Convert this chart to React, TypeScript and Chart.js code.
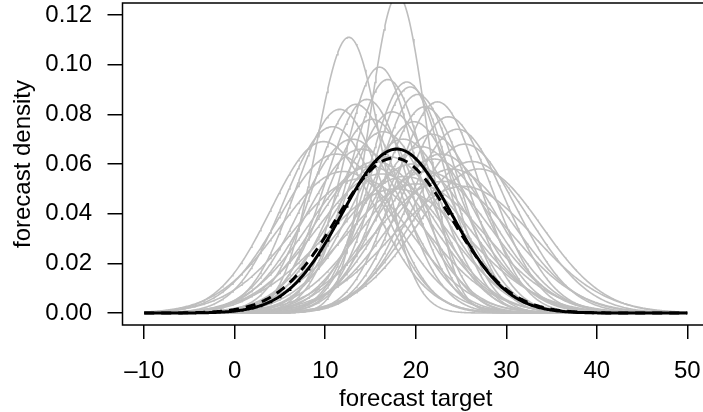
import React, { useEffect, useRef } from "react";
import { Chart, registerables } from "chart.js";

Chart.register(...registerables);

// ---- data ----
const xTicks = [-10, 0, 10, 20, 30, 40, 50];
const xTickLabels = ["\u201310", "0", "10", "20", "30", "40", "50"];
const yTicks = [0, 0.02, 0.04, 0.06, 0.08, 0.1, 0.12];
const yTickLabels = ["0.00", "0.02", "0.04", "0.06", "0.08", "0.10", "0.12"];
const xTitle = "forecast target";
const yTitle = "forecast density";
const xFrom = -10;
const xTo = 50;

// member forecast densities (grey): location of peak and peak height
const memberCentres = [
  18.0, 12.6, 16.0, 16.9, 19.0, 19.4, 20.2, 22.4, 21.0, 14.6, 13.4, 11.6, 17.4, 23.6, 15.2,
  19.8, 24.6, 10.8, 16.4, 21.8, 13.0, 18.6, 25.4, 20.6, 14.0, 11.2, 22.8, 17.0, 26.2, 15.6,
  19.6, 12.0, 24.0, 21.2, 16.2, 18.8, 13.8, 23.0, 20.0, 25.2, 17.8, 15.0, 22.0, 9.8, 27.0,
];
const memberPeaks = [
  0.128, 0.111, 0.099, 0.094, 0.093, 0.091, 0.088, 0.085, 0.083, 0.086, 0.084, 0.082, 0.081, 0.079, 0.078,
  0.077, 0.074, 0.075, 0.073, 0.072, 0.07, 0.07, 0.068, 0.067, 0.066, 0.064, 0.064, 0.063, 0.061, 0.061,
  0.06, 0.057, 0.058, 0.057, 0.056, 0.055, 0.054, 0.053, 0.052, 0.051, 0.05, 0.059, 0.062, 0.069, 0.058,
];
// combined forecasts (black solid and black dashed)
const combinedCentre = 17.9;
const combinedPeak = 0.066;
const averageCentre = 17.6;
const averagePeak = 0.0624;

const FONT = '"Liberation Sans", Arial, Helvetica, sans-serif';

function densityCurve(centre: number, peak: number) {
  const sd = 1 / (peak * Math.sqrt(2 * Math.PI));
  const pts: { x: number; y: number }[] = [];
  const n = 600;
  for (let i = 0; i <= n; i++) {
    const x = xFrom + ((xTo - xFrom) * i) / n;
    const z = (x - centre) / sd;
    pts.push({ x, y: peak * Math.exp(-0.5 * z * z) });
  }
  return pts;
}

const framePlugin = {
  id: "frame",
  afterDraw(chart: any) {
    const { ctx, chartArea: a } = chart;
    ctx.save();
    ctx.strokeStyle = "#000";
    ctx.lineWidth = 1.5;
    ctx.strokeRect(a.left, a.top, a.right - a.left, a.bottom - a.top);
    ctx.fillStyle = "#000";
    ctx.font = `24px ${FONT}`;
    ctx.textAlign = "center";
    ctx.textBaseline = "alphabetic";
    ctx.fillText(xTitle, (a.left + a.right) / 2, 406);
    ctx.translate(30, (a.top + a.bottom) / 2);
    ctx.rotate(-Math.PI / 2);
    ctx.fillText(yTitle, 0, 0);
    ctx.restore();
  },
};

const noPad = (s: any) => {
  s.paddingTop = 0;
  s.paddingBottom = 0;
  s.paddingLeft = 0;
  s.paddingRight = 0;
};

export default function App() {
  const ref = useRef<HTMLCanvasElement | null>(null);

  useEffect(() => {
    if (!ref.current) return;
    const datasets: any[] = [
      {
        data: densityCurve(combinedCentre, combinedPeak),
        borderColor: "#000000",
        borderWidth: 3,
        pointRadius: 0,
      },
      {
        data: densityCurve(averageCentre, averagePeak),
        borderColor: "#000000",
        borderWidth: 3,
        borderDash: [10, 7],
        pointRadius: 0,
      },
      ...memberCentres.map((c, i) => ({
        data: densityCurve(c, memberPeaks[i]),
        borderColor: "#BEBEBE",
        borderWidth: 1.6,
        pointRadius: 0,
      })),
    ];

    const chart = new Chart(ref.current, {
      type: "line",
      data: { datasets },
      options: {
        animation: false,
        responsive: false,
        devicePixelRatio: 1,
        events: [],
        layout: { padding: { top: 3, right: 3, left: 0, bottom: 0 } },
        plugins: { legend: { display: false }, tooltip: { enabled: false } },
        elements: { line: { tension: 0, fill: false } },
        scales: {
          x: {
            type: "linear",
            min: -12.4,
            max: 52.4,
            afterBuildTicks: (s: any) => {
              s.ticks = xTicks.map((v) => ({ value: v }));
            },
            afterFit: (s: any) => {
              s.height = 87;
              noPad(s);
            },
            ticks: {
              callback: (_v: any, i: number) => xTickLabels[i],
              font: { family: FONT, size: 24 },
              color: "#000",
              padding: 18,
              maxRotation: 0,
              autoSkip: false,
            },
            grid: { drawOnChartArea: false, drawTicks: true, tickLength: 14, color: "#000", lineWidth: 1.5 },
            border: { display: false },
          },
          y: {
            type: "linear",
            min: -0.0048,
            max: 0.1248,
            afterBuildTicks: (s: any) => {
              s.ticks = yTicks.map((v) => ({ value: v }));
            },
            afterFit: (s: any) => {
              s.width = 122.5;
              noPad(s);
            },
            ticks: {
              callback: (_v: any, i: number) => yTickLabels[i],
              font: { family: FONT, size: 24 },
              color: "#000",
              padding: 15.5,
              autoSkip: false,
            },
            grid: { drawOnChartArea: false, drawTicks: true, tickLength: 15, color: "#000", lineWidth: 1.5 },
            border: { display: false },
          },
        },
      },
      plugins: [framePlugin],
    });
    return () => chart.destroy();
  }, []);

  return (
    <div style={{ position: "fixed", left: 0, top: 0, width: 703, height: 412, overflow: "hidden", background: "#fff" }}>
      <canvas ref={ref} width={712} height={412} style={{ display: "block" }} />
    </div>
  );
}
